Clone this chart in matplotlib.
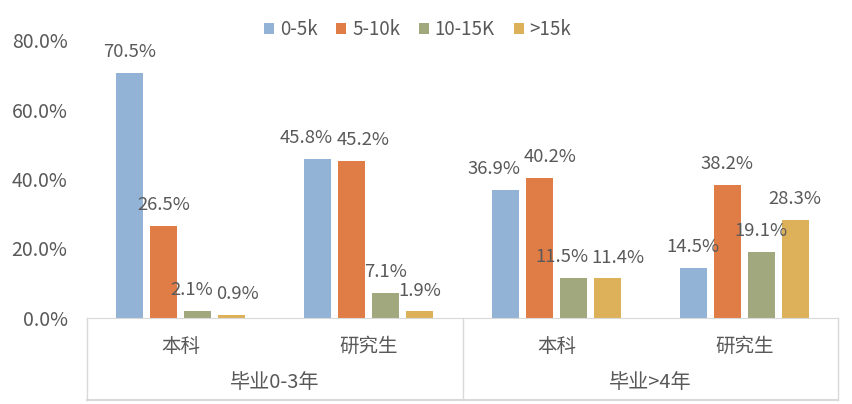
import matplotlib
matplotlib.use('Agg')
import matplotlib.pyplot as plt
import numpy as np

plt.rcParams['font.family'] = ['Noto Sans CJK SC', 'DejaVu Sans']

sub_labels = ['本科', '研究生', '本科', '研究生']
group_labels = ['毕业0-3年', '毕业>4年']
series_names = ['0-5k', '5-10k', '10-15K', '>15k']
s_0_5k = [70.5, 45.8, 36.9, 14.5]
s_5_10k = [26.5, 45.2, 40.2, 38.2]
s_10_15k = [2.1, 7.1, 11.5, 19.1]
s_15k = [0.9, 1.9, 11.4, 28.3]
colors = ['#93B3D6', '#E07C46', '#A2A87D', '#DDB15A']

txt = '#595959'
line_c = '#D9D9D9'

def spread_labels(fig, groups):
    # push apart neighbouring labels that collide, like Excel does
    fig.canvas.draw()
    r = fig.canvas.get_renderer()
    for labels in groups:
        for _ in range(5):
            moved = False
            for a, b in zip(labels[:-1], labels[1:]):
                ba = a.get_window_extent(r)
                bb = b.get_window_extent(r)
                if ba.x1 > bb.x0 - 2 and ba.y0 < bb.y1 and bb.y0 < ba.y1:
                    d = (ba.x1 - bb.x0 + 3) / 2 * 72 / fig.dpi
                    xa, ya = a.get_position()
                    xb, yb = b.get_position()
                    a.set_position((xa - d, ya))
                    b.set_position((xb + d, yb))
                    moved = True
            if not moved:
                break

def main():
    fig = plt.figure(figsize=(8.52, 4.04), dpi=100)
    ax = fig.add_axes([87 / 852, 1 - 318 / 404, (838 - 87) / 852, 278 / 404])

    x = np.arange(len(sub_labels))
    width = 0.144
    step = 0.181
    all_series = [s_0_5k, s_5_10k, s_10_15k, s_15k]
    groups = [[] for _ in x]
    for i, vals in enumerate(all_series):
        pos = x + (i - 1.5) * step
        ax.bar(pos, vals, width, color=colors[i], label=series_names[i], zorder=2)
        for gi, (px, v) in enumerate(zip(pos, vals)):
            t = ax.annotate('%.1f%%' % v, (px, v), xytext=(0, 15), textcoords='offset points',
                            ha='center', va='center', fontsize=13.3, color=txt)
            groups[gi].append(t)

    ax.set_xlim(-0.5, 3.5)
    ax.set_ylim(0, 80)
    ax.set_yticks([0, 20, 40, 60, 80])
    ax.set_yticklabels(['%.1f%%' % t for t in [0, 20, 40, 60, 80]], fontsize=14, color=txt)
    ax.tick_params(axis='y', length=0, pad=14)
    ax.set_xticks([])
    for s in ['top', 'right', 'left']:
        ax.spines[s].set_visible(False)
    ax.spines['bottom'].set_color(line_c)

    # category table under the axis
    trans = ax.get_xaxis_transform()
    y_bot = -82 / 278
    for xv in [-0.5, 1.5, 3.5]:
        ax.plot([xv, xv], [0, y_bot], transform=trans, color=line_c, lw=1, clip_on=False)
    ax.plot([-0.5, 3.5], [y_bot, y_bot], transform=trans, color=line_c, lw=1.5, clip_on=False)
    for xi, lab in zip(x, sub_labels):
        ax.text(xi, -28 / 278, lab, transform=trans, ha='center', va='center', fontsize=14, color=txt)
    for gi, lab in enumerate(group_labels):
        ax.text(0.5 + 2 * gi, -65 / 278, lab, transform=trans, ha='center', va='center', fontsize=14.5, color=txt)

    leg = fig.legend(loc='center', bbox_to_anchor=(0.49, 0.926), ncol=4, frameon=False,
                     fontsize=13.5, handlelength=0.55, handleheight=0.55, handletextpad=0.3,
                     columnspacing=1.0)
    for t in leg.get_texts():
        t.set_color(txt)

    spread_labels(fig, groups)
    fig.savefig('out.png', dpi=100)

if __name__ == '__main__':
    main()
